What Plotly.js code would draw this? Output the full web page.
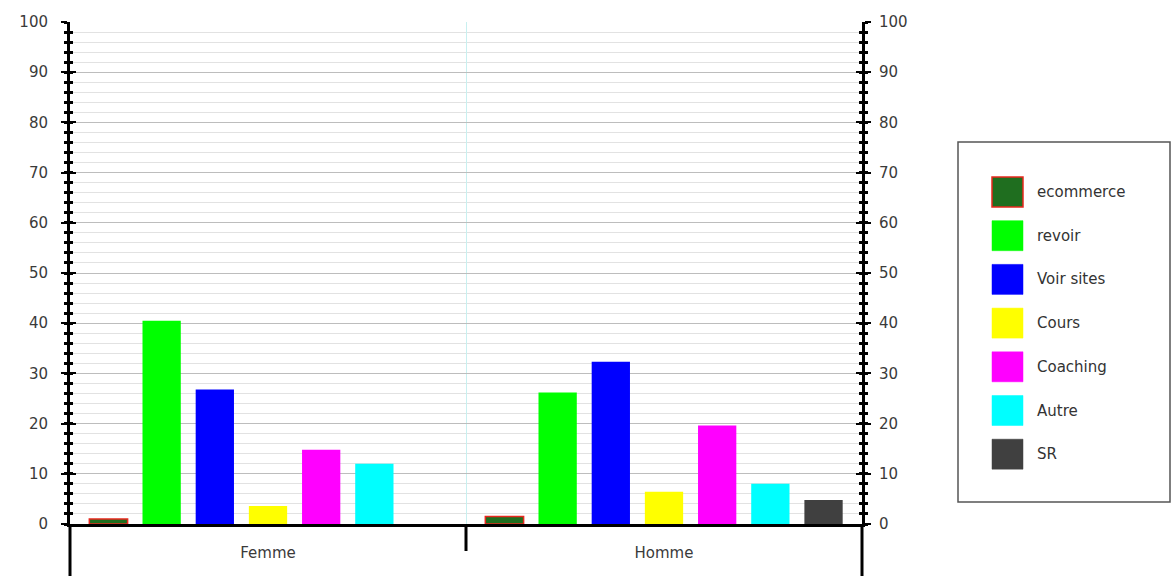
<!DOCTYPE html>
<html>
<head>
<meta charset="utf-8">
<script src="https://cdn.plot.ly/plotly-3.0.1.min.js"></script>
<style>html,body{margin:0;padding:0;background:#fff;}#chart{width:1171px;height:576px;}</style>
</head>
<body>
<div id="chart"></div>
<script>
const categories = ["Femme", "Homme"];
const seriesNames = ["ecommerce", "revoir", "Voir sites", "Cours", "Coaching", "Autre", "SR"];
const seriesColors = ["#1f6e1f", "#00ff00", "#0000ff", "#ffff00", "#ff00ff", "#00ffff", "#404040"];
const ecommerce = [1.0, 1.5];
const revoir = [40.5, 26.2];
const voirSites = [26.8, 32.3];
const cours = [3.6, 6.4];
const coaching = [14.8, 19.6];
const autre = [12.0, 8.0];
const sr = [0, 4.8];
const yTickVals = [0, 10, 20, 30, 40, 50, 60, 70, 80, 90, 100];

const seriesValues = [ecommerce, revoir, voirSites, cours, coaching, autre, sr];

const traces = seriesNames.map((n, i) => ({
  type: "bar",
  name: n,
  x: categories,
  y: seriesValues[i],
  marker: {
    color: seriesColors[i],
    line: i === 0 ? {color: "#e8281e", width: 1.5} : {width: 0}
  },
  showlegend: false,
  hoverinfo: "x+y+name"
}));

traces.push({type: "scatter", x: categories, y: [null, null], yaxis: "y2", showlegend: false, hoverinfo: "skip"});
traces.push({type: "scatter", x: categories, y: [null, null], yaxis: "y3", showlegend: false, hoverinfo: "skip"});

const fontFam = "DejaVu Sans, sans-serif";
const tickFont = {family: fontFam, size: 15, color: "#3a3a3a"};

const W = 1171, H = 576, L = 70, R = 309, T = 22, B = 52;
const pw = W - L - R, ph = H - T - B;
const px = v => (v - L) / pw;
const py = v => (H - B - v) / ph;

const shapes = [
  {type: "line", xref: "paper", yref: "paper", x0: 0, x1: 0, y0: 0, y1: py(578), line: {color: "#000", width: 3}},
  {type: "line", xref: "paper", yref: "paper", x0: 1, x1: 1, y0: 0, y1: py(578), line: {color: "#000", width: 3}},
  {type: "line", xref: "x", yref: "paper", x0: 0.5, x1: 0.5, y0: 0, y1: py(551), line: {color: "#000", width: 3}},
  {type: "rect", xref: "paper", yref: "paper", x0: px(958), x1: px(1170), y0: py(142), y1: py(502), line: {color: "#555", width: 1.5}, fillcolor: "rgba(0,0,0,0)"}
];
const annotations = [];
const legendY0 = 192, legendStep = 43.7;
seriesNames.forEach((n, i) => {
  const cy = legendY0 + i * legendStep;
  shapes.push({
    type: "rect", xref: "paper", yref: "paper",
    x0: px(992), x1: px(1023), y0: py(cy + 15), y1: py(cy - 15),
    fillcolor: seriesColors[i],
    line: i === 0 ? {color: "#e8281e", width: 1.5} : {color: seriesColors[i], width: 0.5}
  });
  annotations.push({
    xref: "paper", yref: "paper", x: px(1035), y: py(cy), xanchor: "left", yanchor: "middle",
    text: n, showarrow: false, font: {family: fontFam, size: 15, color: "#333"}
  });
});

const layout = {
  width: W, height: H,
  margin: {l: L, r: R, t: T, b: B, pad: 0},
  paper_bgcolor: "#fff", plot_bgcolor: "#fff",
  showlegend: false,
  barmode: "group",
  bargap: 0.06,
  bargroupgap: 0.28,
  xaxis: {
    type: "category",
    tickson: "boundaries",
    showgrid: true, gridcolor: "#c8f0f0", gridwidth: 1,
    showline: true, linecolor: "#000", linewidth: 3,
    ticks: "", tickfont: tickFont, ticklabelstandoff: 13,
    fixedrange: true, zeroline: false
  },
  yaxis: {
    range: [0, 100], tickvals: yTickVals, ticktext: yTickVals.map(String),
    showgrid: true, gridcolor: "#bdbdbd", gridwidth: 1,
    minor: {dtick: 2, showgrid: true, gridcolor: "#e2e2e2", gridwidth: 1, ticks: "outside", ticklen: 3, tickwidth: 3, tickcolor: "#000"},
    showline: true, linecolor: "#000", linewidth: 3, mirror: "ticks",
    ticks: "outside", ticklen: 6, tickwidth: 2, tickcolor: "#000",
    ticklabelstandoff: 10,
    tickfont: tickFont, zeroline: false, fixedrange: true
  },
  yaxis2: {
    range: [0, 100], tickvals: yTickVals, ticktext: yTickVals.map(String),
    overlaying: "y", side: "right", showgrid: false, showline: false,
    ticks: "", ticklabelstandoff: 16,
    tickfont: tickFont, zeroline: false, fixedrange: true
  },
  yaxis3: {
    range: [0, 100], tickvals: yTickVals, showticklabels: false,
    overlaying: "y", side: "left", showgrid: false, showline: false, mirror: "ticks",
    ticks: "inside", ticklen: 6, tickwidth: 2, tickcolor: "#000",
    minor: {dtick: 2, ticks: "inside", ticklen: 3, tickwidth: 3, tickcolor: "#000"},
    zeroline: false, fixedrange: true
  },
  shapes: shapes,
  annotations: annotations
};

Plotly.newPlot("chart", traces, layout, {displayModeBar: false, staticPlot: true});
</script>
</body>
</html>
